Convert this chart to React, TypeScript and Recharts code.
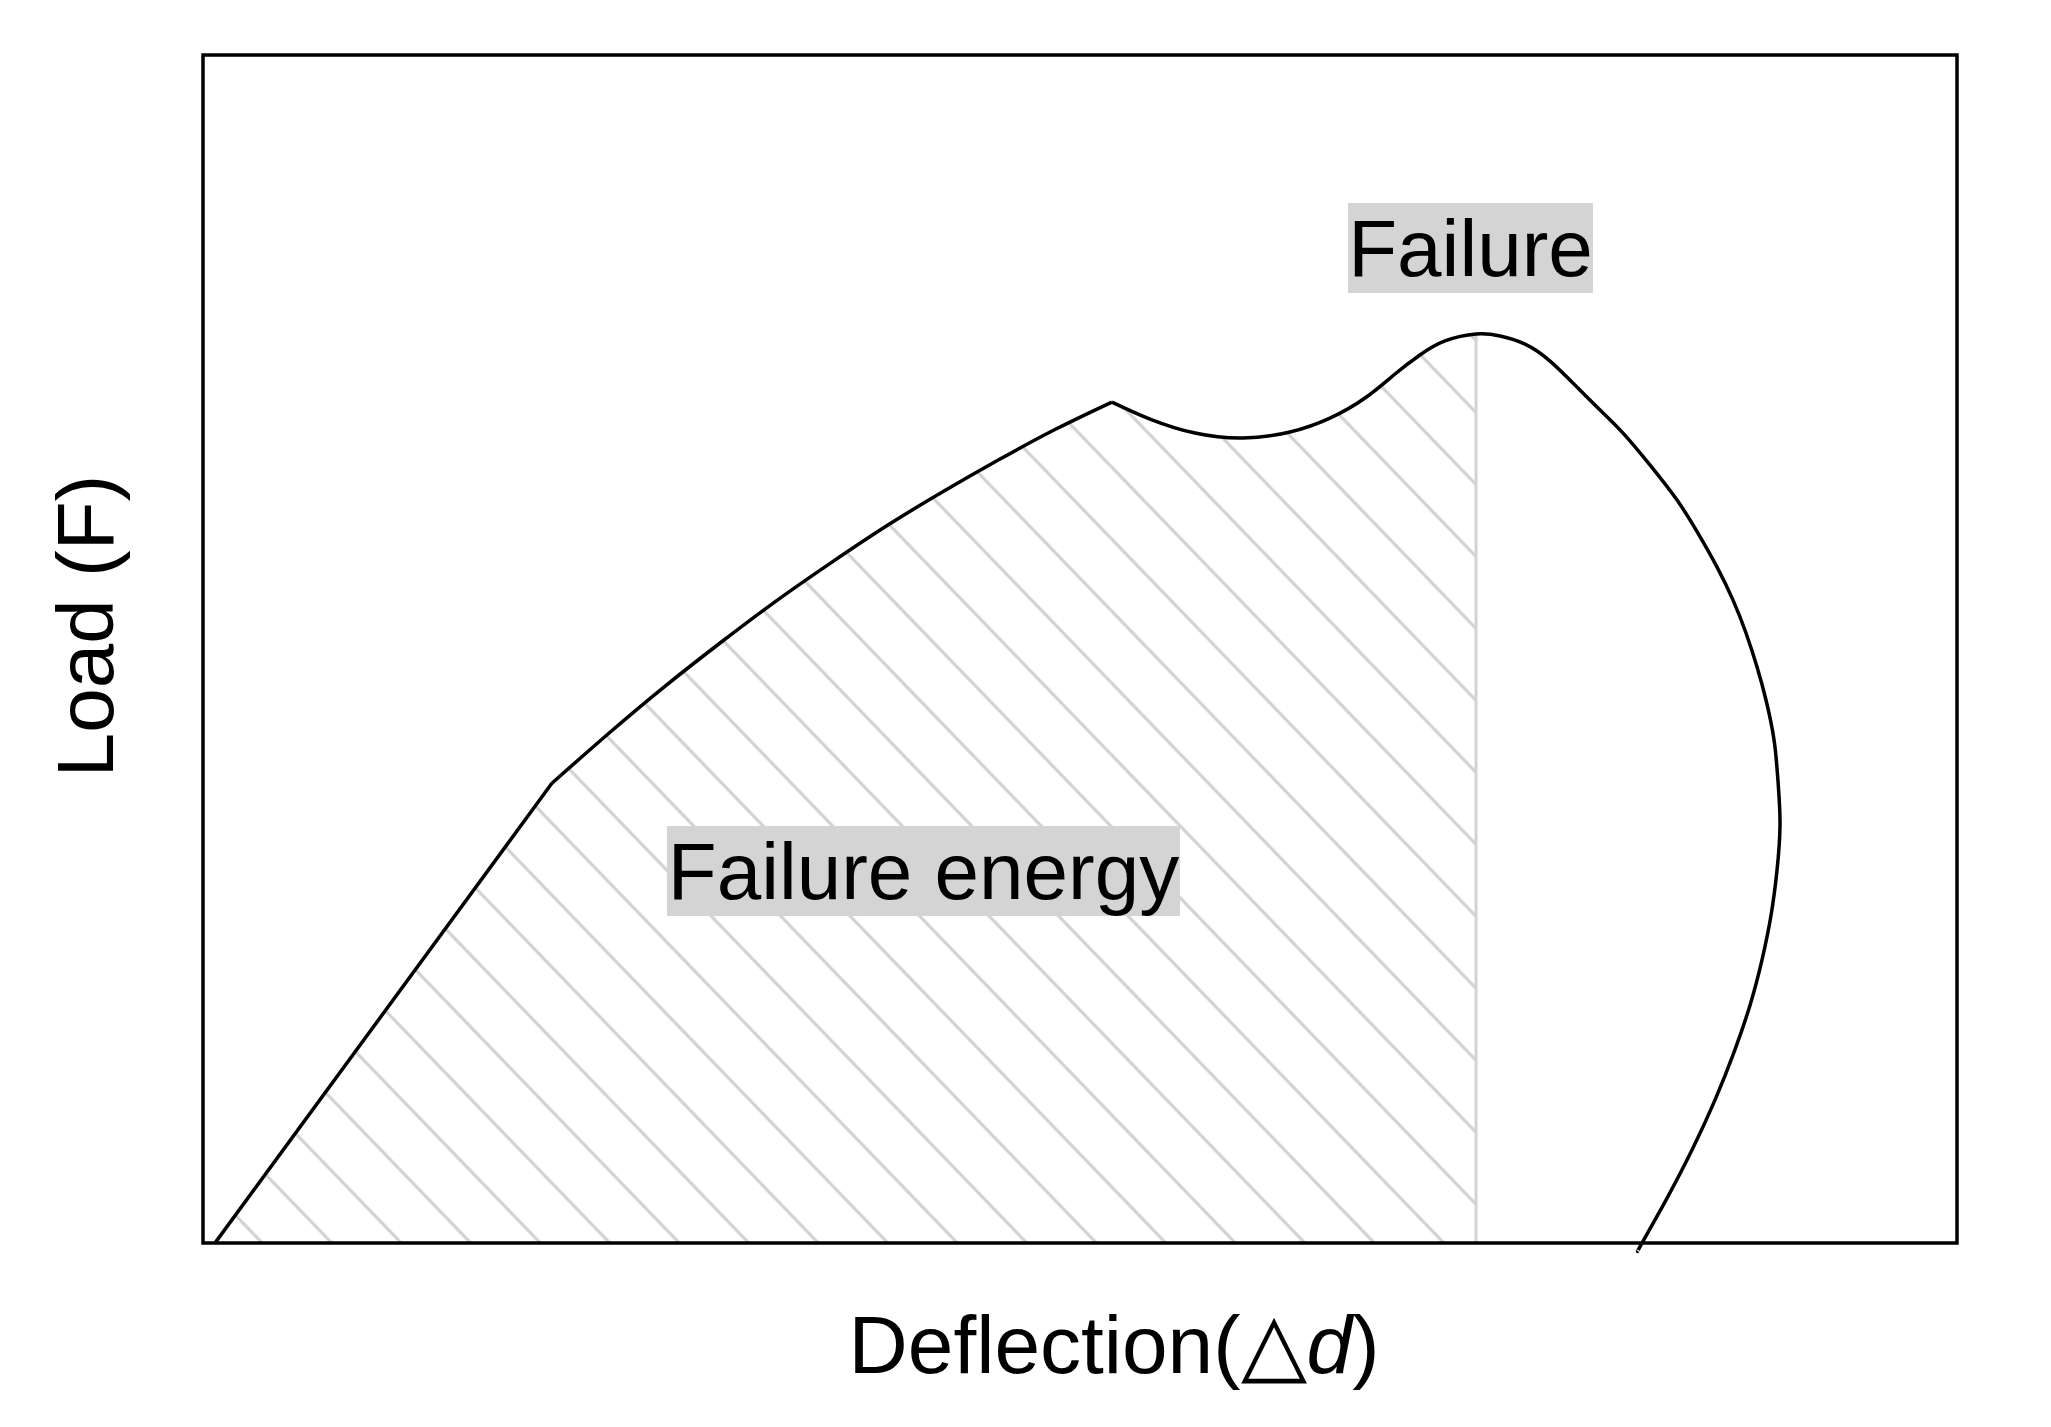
import {
  ComposedChart,
  Area,
  Line,
  XAxis,
  YAxis,
  ReferenceArea,
  ReferenceLine,
  Label,
} from "recharts";

// load–deflection curve, three pieces joined at sharp corners
const elasticDeflection = [0.68, 19.9];
const elasticLoad = [0, 38.72];

const hardeningDeflection = [19.9, 23.09, 26.28, 29.48, 32.67, 35.86, 39.05, 42.25, 45.44, 48.63, 51.82];
const hardeningLoad = [38.72, 42.85, 46.8, 50.51, 54.04, 57.32, 60.44, 63.3, 65.99, 68.52, 70.79];

const failureDeflection = [
  51.82, 53.99, 56.56, 59.29, 61.97, 64.25, 66.25, 67.96, 69.38, 70.81, 72.58,
  73.95, 75.37, 76.8, 78.39, 79.65, 80.96, 82.55, 84.04, 85.23, 86.32, 87.23,
  87.97, 88.6, 89.11, 89.57, 89.79, 89.91, 89.74, 89.4, 88.88, 88.2, 87.29,
  86.2, 84.89, 83.47, 82.04, 81.81,
];
const failureLoad = [
  70.79, 69.36, 68.18, 67.76, 68.27, 69.44, 71.13, 73.15, 74.75, 75.93, 76.52,
  76.35, 75.67, 74.24, 71.97, 70.12, 68.18, 65.4, 62.54, 59.76, 56.9, 54.12,
  51.35, 48.48, 45.71, 42.34, 38.97, 35.27, 31.4, 27.61, 23.82, 20.03, 16.08,
  12.04, 7.83, 3.79, 0, -0.67,
];

// index of the peak load (end of the hatched energy area)
const peakIndex = 10;

const toPoints = (xs: number[], ys: number[]) => xs.map((x, i) => ({ x, y: ys[i] }));

const elastic = toPoints(elasticDeflection, elasticLoad);
const hardening = toPoints(hardeningDeflection, hardeningLoad);
const failure = toPoints(failureDeflection, failureLoad);
const failureToPeak = failure.slice(0, peakIndex + 1);
const peak = failure[peakIndex];

const FONT = "'Liberation Sans', Arial, Helvetica, sans-serif";

const App = () => {
  return (
    <ComposedChart
      width={2035}
      height={1411}
      margin={{ top: 47, right: 86, left: 0, bottom: 0 }}
    >
      <defs>
        <pattern
          id="hatch"
          patternUnits="userSpaceOnUse"
          width={50}
          height={50}
          patternTransform="rotate(-44)"
        >
          <line x1={25} y1={0} x2={25} y2={50} stroke="#cfcfcf" strokeWidth={3} />
        </pattern>
      </defs>

      <XAxis
        dataKey="x"
        type="number"
        domain={[0, 100]}
        height={164}
        tick={false}
        tickLine={false}
        axisLine={false}
      >
        <Label
          content={(props: any) => {
            const vb = props.viewBox ?? { x: 195, y: 1247, width: 1754 };
            return (
              <text
                x={vb.x + vb.width / 2 + 34}
                y={vb.y + 118}
                textAnchor="middle"
                fontSize={82}
                fontFamily={FONT}
                fill="#000"
              >
                Deflection(<tspan fontSize={86}>△</tspan>
                <tspan fontStyle="italic">d</tspan>)
              </text>
            );
          }}
        />
      </XAxis>
      <YAxis
        type="number"
        domain={[-1, 100]}
        width={195}
        tick={false}
        tickLine={false}
        axisLine={false}
      >
        <Label
          content={(props: any) => {
            const vb = props.viewBox ?? { x: 0, y: 47, width: 195, height: 1200 };
            const x = vb.x + 105;
            const y = vb.y + vb.height / 2 - 29;
            return (
              <text
                x={x}
                y={y}
                textAnchor="middle"
                fontSize={80}
                fontFamily={FONT}
                fill="#000"
                transform={`rotate(-90, ${x}, ${y})`}
              >
                Load (F)
              </text>
            );
          }}
        />
      </YAxis>

      {/* hatched failure energy under the curve up to the peak */}
      <Area data={elastic} dataKey="y" type="linear" baseValue={0} stroke="none" fill="url(#hatch)" fillOpacity={1} isAnimationActive={false} zIndex={100} />
      <Area data={hardening} dataKey="y" type="natural" baseValue={0} stroke="none" fill="url(#hatch)" fillOpacity={1} isAnimationActive={false} zIndex={100} />
      <Area data={failureToPeak} dataKey="y" type="natural" baseValue={0} stroke="none" fill="url(#hatch)" fillOpacity={1} isAnimationActive={false} zIndex={100} />

      <ReferenceLine
        segment={[{ x: peak.x, y: 0 }, { x: peak.x, y: peak.y }]}
        stroke="#d3d3d3"
        strokeWidth={3}
        zIndex={150}
      />

      <ReferenceArea x1={0} x2={100} y1={0} y2={100} fill="none" stroke="#000" strokeWidth={3.5} zIndex={350} />

      <ReferenceArea x1={65.28} x2={79.25} y1={79.97} y2={87.54} fill="#d4d4d4" fillOpacity={1} stroke="none" zIndex={300}>
        <Label value="Failure" position="center" fontSize={80} fontFamily={FONT} fill="#000" />
      </ReferenceArea>
      <ReferenceArea x1={26.45} x2={55.7} y1={27.53} y2={35.1} fill="#d4d4d4" fillOpacity={1} stroke="none" zIndex={300}>
        <Label value="Failure energy" position="center" fontSize={80} fontFamily={FONT} fill="#000" />
      </ReferenceArea>

      <Line data={elastic} dataKey="y" type="linear" stroke="#000" strokeWidth={3.5} dot={false} isAnimationActive={false} zIndex={400} />
      <Line data={hardening} dataKey="y" type="natural" stroke="#000" strokeWidth={3.5} dot={false} isAnimationActive={false} zIndex={400} />
      <Line data={failure} dataKey="y" type="natural" stroke="#000" strokeWidth={3.5} dot={false} isAnimationActive={false} zIndex={400} />
    </ComposedChart>
  );
};

export default App;
